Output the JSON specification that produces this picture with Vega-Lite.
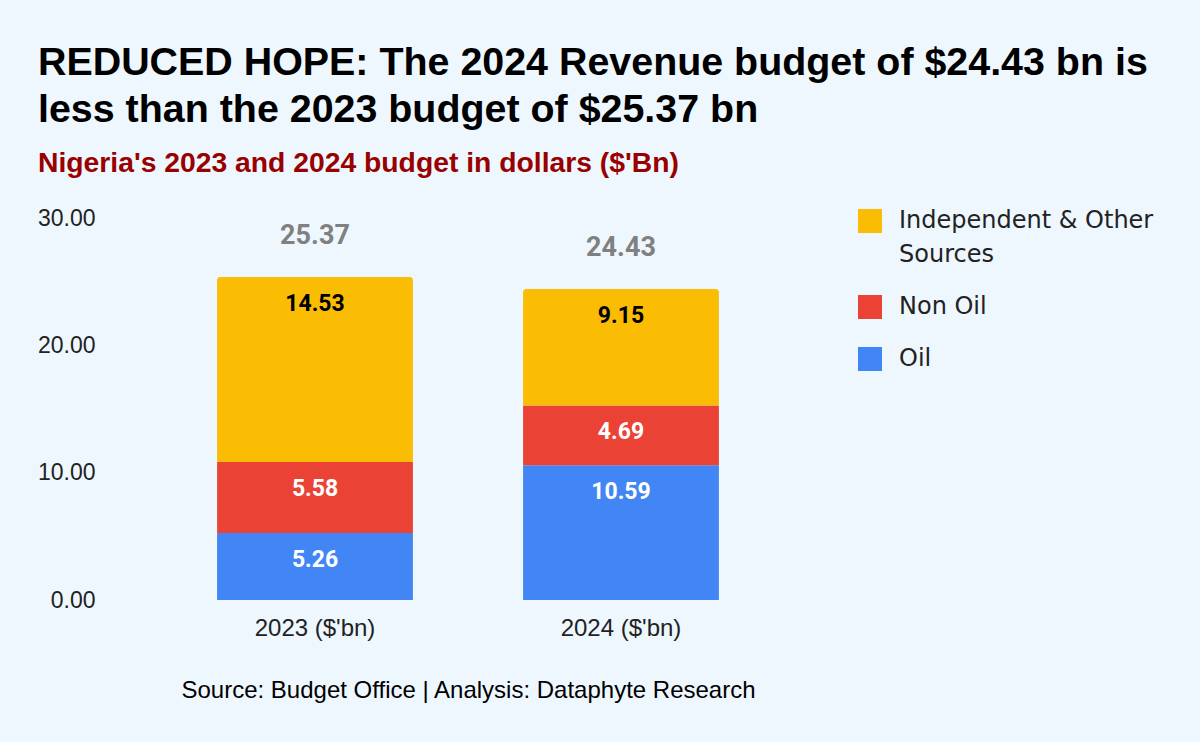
{
  "$schema": "https://vega.github.io/schema/vega-lite/v6.json",
  "width": 716,
  "height": 382,
  "autosize": {"type": "none"},
  "padding": {"left": 110, "top": 218, "right": 374, "bottom": 142},
  "background": "#EEF7FE",
  "config": {"view": {"stroke": null}, "style": {"guide-label": {"lineHeight": 34}}},
  "title": {
    "text": ["REDUCED HOPE: The 2024 Revenue budget of $24.43 bn is", "less than the 2023 budget of $25.37 bn"],
    "subtitle": "Nigeria's 2023 and 2024 budget in dollars ($'Bn)",
    "anchor": "start",
    "frame": "group",
    "dx": -72,
    "font": "Liberation Sans",
    "fontSize": 39.4,
    "fontWeight": "bold",
    "color": "#000000",
    "lineHeight": 47,
    "subtitleFont": "Liberation Sans",
    "subtitleFontSize": 28.3,
    "subtitleFontWeight": "bold",
    "subtitleColor": "#990000",
    "subtitlePadding": 19,
    "offset": 29
  },
  "data": {
    "values": [
      {"year": "2023 ($'bn)", "source": "Oil", "value": 5.26, "ord": 1},
      {"year": "2023 ($'bn)", "source": "Non Oil", "value": 5.58, "ord": 2},
      {"year": "2023 ($'bn)", "source": "Independent & Other Sources", "value": 14.53, "ord": 3},
      {"year": "2024 ($'bn)", "source": "Oil", "value": 10.59, "ord": 1},
      {"year": "2024 ($'bn)", "source": "Non Oil", "value": 4.69, "ord": 2},
      {"year": "2024 ($'bn)", "source": "Independent & Other Sources", "value": 9.15, "ord": 3}
    ]
  },
  "transform": [
    {"stack": "value", "groupby": ["year"], "sort": [{"field": "ord", "order": "ascending"}], "as": ["y0", "y1"]}
  ],
  "encoding": {
    "x": {
      "field": "year",
      "type": "nominal",
      "scale": {"paddingInner": 0.36, "paddingOuter": 0.35},
      "axis": {
        "title": "Source: Budget Office | Analysis: Dataphyte Research",
        "titleFont": "Liberation Sans",
        "titleFontSize": 24,
        "titleFontWeight": "normal",
        "titleColor": "#000000",
        "titlePadding": 38,
        "labelAngle": 0,
        "labelFont": "Liberation Sans",
        "labelFontSize": 24,
        "labelColor": "#222222",
        "labelPadding": 16,
        "domain": false,
        "ticks": false
      }
    },
    "y": {
      "field": "y1",
      "type": "quantitative",
      "scale": {"domain": [0, 30], "nice": false},
      "axis": {
        "title": null,
        "values": [0, 10, 20, 30],
        "format": ".2f",
        "labelFont": "Liberation Sans",
        "labelFontSize": 23,
        "labelColor": "#222222",
        "labelPadding": 15,
        "domain": false,
        "ticks": false,
        "grid": false
      }
    },
    "color": {
      "field": "source",
      "type": "nominal",
      "scale": {
        "domain": ["Independent & Other Sources", "Non Oil", "Oil"],
        "range": ["#FBBC04", "#EA4335", "#4285F4"]
      },
      "legend": {
        "title": null,
        "orient": "none",
        "legendX": 748,
        "legendY": -9,
        "symbolType": "square",
        "symbolSize": 576,
        "symbolStrokeWidth": 0,
        "symbolOpacity": 1,
        "labelFont": "DejaVu Sans",
        "labelFontSize": 24,
        "labelColor": "#222222",
        "labelOffset": 17,
        "labelLimit": 400,
        "rowPadding": 28,
        "labelExpr": "datum.label === 'Independent & Other Sources' ? ['Independent & Other', 'Sources'] : datum.label"
      }
    }
  },
  "layer": [
    {
      "transform": [{"filter": "datum.ord < 3"}],
      "mark": {"type": "bar"},
      "encoding": {"y2": {"field": "y0"}}
    },
    {
      "transform": [{"filter": "datum.ord === 3"}],
      "mark": {"type": "bar", "cornerRadiusTopLeft": 3, "cornerRadiusTopRight": 3},
      "encoding": {"y2": {"field": "y0"}}
    },
    {
      "mark": {"type": "text", "baseline": "middle", "dy": 27, "font": "Roboto", "fontSize": 23, "fontWeight": "bold"},
      "encoding": {
        "text": {"field": "value", "type": "quantitative", "format": ".2f"},
        "color": {
          "condition": {"test": "datum.source === 'Independent & Other Sources'", "value": "#000000"},
          "value": "#FFFFFF"
        }
      }
    },
    {
      "transform": [{"aggregate": [{"op": "sum", "field": "value", "as": "y1"}], "groupby": ["year"]}],
      "mark": {"type": "text", "baseline": "middle", "dy": -41, "font": "Roboto", "fontSize": 27, "fontWeight": "bold", "color": "#808080"},
      "encoding": {
        "text": {"field": "y1", "type": "quantitative", "format": ".2f"},
        "color": {"value": "#808080"}
      }
    }
  ]
}
